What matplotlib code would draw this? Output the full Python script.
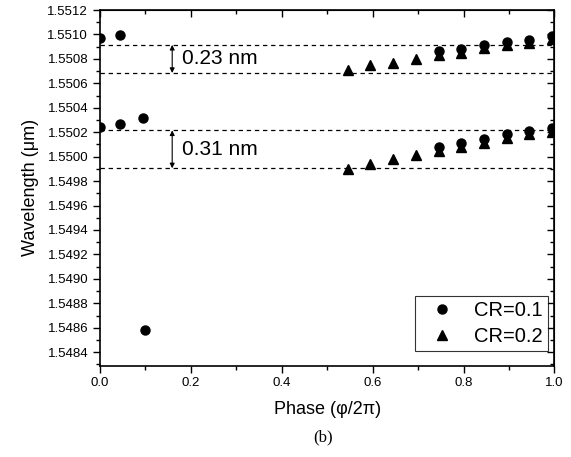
import numpy as np
import matplotlib
matplotlib.use("Agg")
import matplotlib.pyplot as plt
from matplotlib.ticker import MultipleLocator, FormatStrFormatter

plt.rcParams["font.family"] = ["Liberation Sans", "DejaVu Sans"]

# CR = 0.1 (circles)
phase_cr1 = [0.0, 0.045, 0.0, 0.045, 0.095, 0.099,
             0.745, 0.795, 0.845, 0.895, 0.945, 0.995,
             0.745, 0.795, 0.845, 0.895, 0.945, 0.995]
wl_cr1 = [1.55097, 1.550995, 1.550245, 1.55027, 1.55032, 1.548583,
          1.550862, 1.550884, 1.550914, 1.550936, 1.550958, 1.550989,
          1.550078, 1.550111, 1.550147, 1.550185, 1.550213, 1.550237]

# CR = 0.2 (triangles), upper and lower branch
phase_cr2 = [0.545, 0.595, 0.645, 0.695, 0.745, 0.795, 0.845, 0.895, 0.945, 0.995]
wl_cr2_upper = [1.550709, 1.550747, 1.550768, 1.550798, 1.550829,
                1.550851, 1.55089, 1.550912, 1.550934, 1.550964]
wl_cr2_lower = [1.549898, 1.549936, 1.549979, 1.550017, 1.550043,
                1.550076, 1.550109, 1.550153, 1.550183, 1.550200]

# reference levels and the gaps between them (nm)
gap_upper_nm = 0.23
gap_lower_nm = 0.31
mid_upper = 1.5508
mid_lower = 1.55006
arrow_x = 0.159

fig = plt.figure(figsize=(5.71, 4.57), dpi=100)
ax = fig.add_axes([0.175, 0.2, 0.796, 0.778])

for mid, gap in [(mid_upper, gap_upper_nm), (mid_lower, gap_lower_nm)]:
    top = mid + gap * 1e-3 / 2
    bot = mid - gap * 1e-3 / 2
    for level in (top, bot):
        ax.axhline(level, color="black", lw=0.9, ls=(0, (3.5, 3)))
    ax.annotate("", xy=(arrow_x, bot), xytext=(arrow_x, top),
                arrowprops=dict(arrowstyle="<|-|>", color="black", lw=0.8,
                                mutation_scale=7, shrinkA=0, shrinkB=0))
    ax.text(arrow_x + 0.022, mid, f"{gap:.2f} nm", fontsize=15,
            va="center", ha="left")

ax.plot(phase_cr1, wl_cr1, "o", color="black", ms=6.5, label="CR=0.1")
ax.plot(phase_cr2 + phase_cr2, wl_cr2_upper + wl_cr2_lower, "^",
        color="black", ms=7, label="CR=0.2")

ax.set_xlim(0.0, 1.0)
ax.set_ylim(1.54829, 1.5512)
ax.xaxis.set_major_locator(MultipleLocator(0.2))
ax.xaxis.set_minor_locator(MultipleLocator(0.1))
ax.yaxis.set_major_locator(MultipleLocator(0.0002))
ax.yaxis.set_minor_locator(MultipleLocator(0.0001))
ax.xaxis.set_major_formatter(FormatStrFormatter("%.1f"))
ax.yaxis.set_major_formatter(FormatStrFormatter("%.4f"))
ax.tick_params(which="major", direction="out", length=5, width=1, labelsize=9.5)
ax.tick_params(which="minor", direction="out", length=3, width=1)
for sp in ax.spines.values():
    sp.set_linewidth(1.2)

# mirrored ticks on top and right, pointing into the plot
sec_x = ax.secondary_xaxis("top")
sec_x.xaxis.set_major_locator(MultipleLocator(0.2))
sec_x.xaxis.set_minor_locator(MultipleLocator(0.1))
sec_x.tick_params(which="major", direction="in", length=5, width=1, labeltop=False)
sec_x.tick_params(which="minor", direction="in", length=3, width=1)
sec_y = ax.secondary_yaxis("right")
sec_y.yaxis.set_major_locator(MultipleLocator(0.0002))
sec_y.yaxis.set_minor_locator(MultipleLocator(0.0001))
sec_y.tick_params(which="major", direction="in", length=5, width=1, labelright=False)
sec_y.tick_params(which="minor", direction="in", length=3, width=1)

ax.set_xlabel("Phase (\u03c6/2\u03c0)", fontsize=13, labelpad=8)
ax.set_ylabel("Wavelength (\u03bcm)", fontsize=13, labelpad=6)

leg = ax.legend(loc="lower right", bbox_to_anchor=(0.985, 0.04),
                fontsize=14.5, frameon=True, fancybox=False,
                edgecolor="black", borderaxespad=0, handletextpad=0.5,
                borderpad=0.25, labelspacing=0.35, handlelength=2.2)
leg.get_frame().set_linewidth(0.8)

fig.text(0.565, 0.025, "(b)", fontsize=12, family="Liberation Serif",
         ha="center", va="bottom")

fig.savefig("out.png", dpi=100)
